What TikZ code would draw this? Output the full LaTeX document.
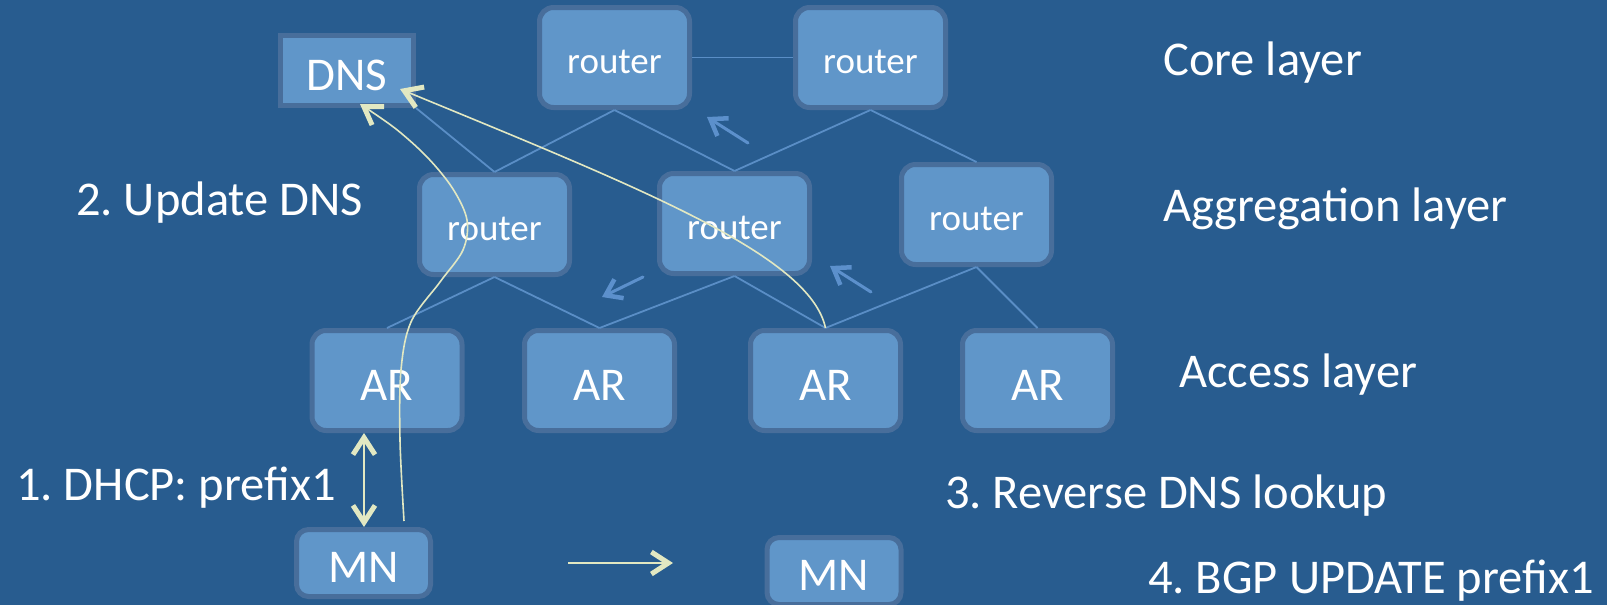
\documentclass[tikz,border=0pt]{standalone}
\usepackage{fontspec}
\setmainfont{Carlito}
\usetikzlibrary{arrows.meta}
\definecolor{bgblue}{RGB}{40,92,143}
\definecolor{boxfill}{RGB}{96,150,201}
\definecolor{boxborder}{RGB}{72,110,155}
\definecolor{linkcol}{RGB}{90,142,198}
\definecolor{flowcol}{RGB}{92,144,204}
\definecolor{msgcol}{RGB}{226,232,194}
\frenchspacing
\tikzset{
  box/.style={draw=boxborder, fill=boxfill, line width=5pt, text=white,
    rounded corners=14pt, minimum width=150pt, minimum height=100pt,
    inner sep=0pt, font=\fontsize{47}{50}\selectfont,
    text height=39pt, text depth=0pt},
  rtr/.style={box, font=\fontsize{37}{40}\selectfont, text height=31pt},
  arbox/.style={box},
  mnbox/.style={box, rounded corners=12pt, minimum width=134pt, minimum height=67pt, text height=38pt},
  dnsbox/.style={box, sharp corners, minimum width=133pt, minimum height=70pt},
  lbl/.style={anchor=base west, inner sep=0pt, text=white, font=\fontsize{48.5}{52}\selectfont},
  link/.style={draw=linkcol, line width=1.8pt},
  flow/.style={draw=flowcol, line width=3pt, line cap=round,
    -{Straight Barb[length=15pt, width=21pt, line width=4.5pt]}},
  msg/.style={draw=msgcol, line width=2pt,
    -{Straight Barb[length=17pt, width=22pt, line width=5pt]}},
  msgboth/.style={draw=msgcol, line width=2pt,
    {Straight Barb[length=17pt, width=22pt, line width=5pt]}-{Straight Barb[length=17pt, width=22pt, line width=5pt]}},
  curve/.style={draw=msgcol, line width=1.6pt,
    -{Straight Barb[length=17pt, width=22pt, line width=5pt]}}
}
\begin{document}
\begin{tikzpicture}[x=1pt, y=-1pt]
\useasboundingbox (0,0) rectangle (1607,605);
\fill[bgblue] (0,0) rectangle (1607,605);

% nodes
\node[dnsbox] (dns) at (347,70.5) {DNS};
\node[rtr] (core1) at (614.5,57.5) {router};
\node[rtr] (core2) at (870.5,57.5) {router};
\node[rtr] (agg1) at (494.5,224.5) {router};
\node[rtr] (agg2) at (734.5,223.5) {router};
\node[rtr] (agg3) at (976.5,214.5) {router};
\node[arbox] (ar1) at (387,380.5) {AR};
\node[arbox] (ar2) at (599.5,380.5) {AR};
\node[arbox] (ar3) at (825.5,380.5) {AR};
\node[arbox] (ar4) at (1037.5,380.5) {AR};
\node[mnbox] (mn1) at (363.5,563) {MN};
\node[mnbox] (mn2) at (834,571) {MN};

% labels
\node[lbl] (lcore) at (1163,75) {Core layer};
\node[lbl] (lagg) at (1163,221) {Aggregation layer};
\node[lbl] (lacc) at (1179,387) {Access layer};
\node[lbl] (lupd) at (76,215) {2. Update DNS};
\node[lbl] (ldhcp) at (16,500) {1. DHCP: prefix1};
\node[lbl] (lrev) at (945,508) {3. Reverse DNS lookup};
\node[lbl] (lbgp) at (1148,593) {4. BGP UPDATE prefix1};

% links
\draw[link] (core1.east) -- (core2.west);
\draw[link] (core1.south) -- (agg1.north);
\draw[link] (core1.south) -- (agg2.north);
\draw[link] (core2.south) -- (agg2.north);
\draw[link] (core2.south) -- (agg3.north);
\draw[link] (dns.south east) -- (agg1.north);
\draw[link] (agg1.south) -- (ar1.north);
\draw[link] (agg1.south) -- (ar2.north);
\draw[link] (agg2.south) -- (ar2.north);
\draw[link] (agg2.south) -- (ar3.north);
\draw[link] (agg3.south) -- (ar3.north);
\draw[link] (agg3.south) -- (ar4.north);

% blue flow arrows
\coordinate (fa1) at (748,143); \coordinate (fa2) at (707,117);
\coordinate (fb1) at (643,277); \coordinate (fb2) at (602,297);
\coordinate (fc1) at (871,292); \coordinate (fc2) at (830,266);
\draw[flow] (fa1) -- (fa2);
\draw[flow] (fb1) -- (fb2);
\draw[flow] (fc1) -- (fc2);

% message arrows
\draw[msgboth] (ar1.south -| 364,0) -- (mn1.north -| 364,0);
\coordinate (mv1) at (568,563); \coordinate (mv2) at (673,563);
\draw[msg] (mv1) -- (mv2);

\coordinate (c1s) at (404,521);
\coordinate (c1e) at (360,104);
\draw[curve] plot[smooth, tension=0.55] coordinates {(c1s) (400,440) (401,370) (411,322) (440,282) (463,250) (467,220) (453,189) (428,158) (396,129) (c1e)};

\coordinate (c2e) at (400,89);
\draw[curve] (ar3.north) .. controls (810,255) and (640,188) .. (c2e);
\end{tikzpicture}
\end{document}
